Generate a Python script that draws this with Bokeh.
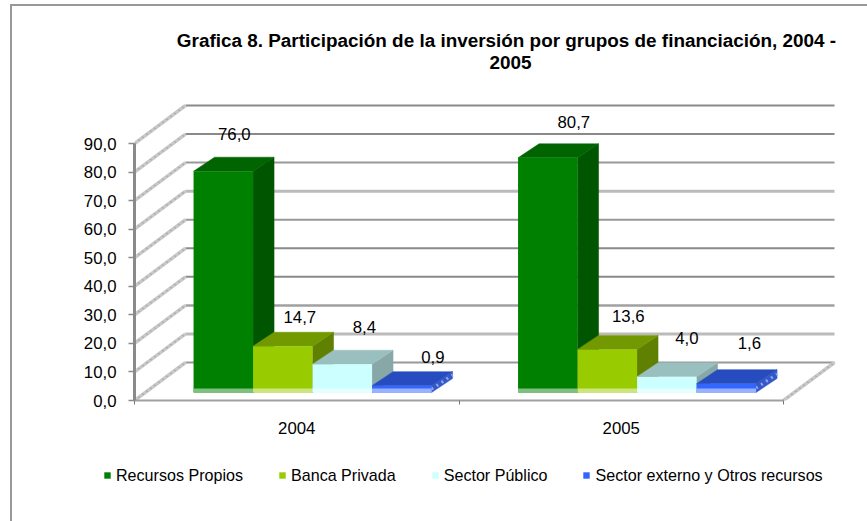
from bokeh.plotting import figure
from bokeh.models import (FixedTicker, Range1d, Legend, LegendItem, Label)
from bokeh.core.properties import value
from bokeh.embed import file_html
from bokeh.resources import INLINE

# ---- data
years = ["2004", "2005"]
series = ["Recursos Propios", "Banca Privada", "Sector Público", "Sector externo y Otros recursos"]
recursos_propios = [76.0, 80.7]
banca_privada = [14.7, 13.6]
sector_publico = [8.4, 4.0]
sector_externo = [0.9, 1.6]
tick_values = [0, 10, 20, 30, 40, 50, 60, 70, 80, 90]
tick_labels = ["0,0", "10,0", "20,0", "30,0", "40,0", "50,0", "60,0", "70,0", "80,0", "90,0"]
title_lines = ["Grafica 8. Participación de la inversión por grupos de financiación, 2004 -", "2005"]

# ---- styles and layout
FONT = "Liberation Sans"
front = ["#008000", "#99CC00", "#CCFFFF", "#3366FF"]
top_c = ["#006400", "#739900", "#99BFBF", "#264CBF"]
side_c = ["#005500", "#5F8000", "#88A8A8", "#3558C8"]
strip = ["#7FBF7F", "#CCE57F", "#E5FFFF", "#99B2FF"]
grid_colors = ["#999999", "#BBBBBB", "#A0A0A0", "#8A8A8A", "#8A8A8A",
               "#999999", "#BBBBBB", "#999999", "#8A8A8A", "#8A8A8A"]
grid_widths = [2, 3, 2.5, 2, 2, 2, 3, 2, 2, 2]
label_dx = [[11, 17, 22, 11 + 20], [26, 21, 20, 23]]  # label offsets, px
label_dy = [[23, 15, 23, 15], [22, 19, 25, 27]]

PX_X = 324.5           # px per group
PX_Y = 257 / 90        # px per value unit
wall_dx, wall_dy = 51 / PX_X, 38 / PX_Y    # wall depth
bar_dx, bar_dy = 21 / PX_X, 14 / PX_Y      # bar depth
bar_w = 59.5 / PX_X
group_offset = 0.182
base_y = 8 / PX_Y      # bars stand on the floor, a little behind the front edge
lift = 1.5             # extra height of the 3D box
strip_h = 4 / PX_Y

# the chart's top and left border lines lie outside the plot frame: drawn as the figure's CSS background
border_css = ("linear-gradient(#999,#999) 10px 5px/2px 100% no-repeat,"
              "linear-gradient(#999,#999) 10px 4px/100% 2px no-repeat")

p = figure(width=867, height=521, frame_width=733, frame_height=400,
           output_backend="svg", toolbar_location=None,
           x_range=Range1d(0, 733 / PX_X), y_range=Range1d(0, 400 / PX_Y),
           min_border_left=134, min_border_right=0, min_border_top=0, min_border_bottom=121,
           outline_line_color=None, border_fill_color=None, background_fill_color=None,
           styles={"background": border_css})
p.grid.visible = False

# y axis
ya = p.yaxis[0]
ya.ticker = FixedTicker(ticks=tick_values)
ya.major_label_overrides = dict(zip(tick_values, tick_labels))
ya.bounds = (0, 90)
ya.axis_line_color = "#8A8A8A"
ya.axis_line_width = 3
ya.major_tick_in = 0
ya.major_tick_out = 6
ya.major_tick_line_color = "#8A8A8A"
ya.major_tick_line_width = 1.5
ya.minor_tick_line_color = None
ya.major_label_standoff = 12
ya.major_label_text_font = FONT
ya.major_label_text_font_size = "16.8px"
ya.major_label_text_color = "#000000"

# x axis
xa = p.xaxis[0]
xa.ticker = FixedTicker(ticks=[0.5, 1.5], minor_ticks=[0, 1, 2])
xa.major_label_overrides = {0.5: years[0], 1.5: years[1]}
xa.bounds = (0, 2)
xa.axis_line_color = "#A0A0A0"
xa.axis_line_width = 2
xa.major_tick_line_color = None
xa.major_tick_in = 0
xa.major_tick_out = 0
xa.minor_tick_in = 0
xa.minor_tick_out = 4
xa.minor_tick_line_color = "#777777"
xa.major_label_standoff = 17
xa.major_label_text_font = FONT
xa.major_label_text_font_size = "16.8px"
xa.major_label_text_color = "#000000"

# back wall gridlines
p.multi_line([[wall_dx, 2 + wall_dx] for _ in tick_values],
             [[t + wall_dy, t + wall_dy] for t in tick_values],
             line_color=grid_colors, line_width=grid_widths)
# side wall and floor edge
for xs, ys in ([[0, wall_dx]] * 10, [[t, t + wall_dy] for t in tick_values]), ([[2, 2 + wall_dx]], [[0, wall_dy]]):
    p.multi_line(xs, ys, line_color="#C8C8C8", line_width=3.5)
    p.multi_line(xs, ys, line_color="#9A9A9A", line_width=1.5, line_dash="1 4")

# bars
all_values = [recursos_propios, banca_privada, sector_publico, sector_externo]
items = []
for s, vals in enumerate(all_values):
    lefts = [g + group_offset + s * bar_w for g in range(len(vals))]
    rights = [l + bar_w for l in lefts]
    tops = [v + base_y + lift for v in vals]
    bottoms = [base_y] * len(vals)
    p.patches([[r, r + bar_dx, r + bar_dx, r] for r in rights],
              [[b, b + bar_dy, t + bar_dy, t] for b, t in zip(bottoms, tops)],
              fill_color=side_c[s], line_color=side_c[s], line_width=0.5)
    p.patches([[l, l + bar_dx, r + bar_dx, r] for l, r in zip(lefts, rights)],
              [[t, t + bar_dy, t + bar_dy, t] for t in tops],
              fill_color=top_c[s], line_color=top_c[s], line_width=0.5)
    if s == len(all_values) - 1:   # dotted light edge on the thin blue bars
        p.multi_line([[r, r + bar_dx] for r in rights],
                     [[(b + t) / 2, (b + t) / 2 + bar_dy] for b, t in zip(bottoms, tops)],
                     line_color="#8FA5F0", line_width=3, line_dash="2 4")
    q = p.quad(left=lefts, right=rights, top=tops, bottom=bottoms,
               fill_color=front[s], line_color=None)
    p.quad(left=lefts, right=rights, top=[b + strip_h for b in bottoms], bottom=bottoms,
           fill_color=strip[s], line_color=None)
    items.append(LegendItem(label=series[s], renderers=[q]))

# data labels
for g in range(2):
    xs, ys, txt = [], [], []
    for s, vals in enumerate(all_values):
        xs.append(g + group_offset + (s + 0.5) * bar_w)
        ys.append(vals[g] + base_y + lift + bar_dy)
        txt.append(f"{vals[g]:.1f}".replace(".", ","))
    p.text(xs, ys, text=txt, x_offset=label_dx[g], y_offset=[-d for d in label_dy[g]],
           text_align="center", text_baseline="middle", text_color="#000000",
           text_font=value(FONT), text_font_size="16.8px")

# legend
leg = Legend(items=items, orientation="horizontal", location=(-31, 692), margin=0, padding=0,
             border_line_color=None, background_fill_color=None,
             glyph_width=8, glyph_height=8, label_standoff=5, spacing=35,
             label_text_font=FONT, label_text_font_size="16.1px", label_text_color="#000000")
p.add_layout(leg, "below")

# title, % label
for k, (line, cx) in enumerate(zip(title_lines, [506, 510])):
    p.add_layout(Label(x=(cx - 134) / PX_X, y=(400 - 40 - 22 * k) / PX_Y, text=line, text_align="center",
                       text_baseline="middle", text_font=FONT, text_font_size="18.9px",
                       text_font_style="bold", text_color="#000000"))
p.add_layout(Label(x=(61 - 134) / PX_X, y=(400 - 275) / PX_Y, text="%", text_align="center",
                   text_baseline="middle", text_font=FONT, text_font_size="17px", text_color="#000000"))

open("out.html", "w").write(file_html(p, INLINE))
